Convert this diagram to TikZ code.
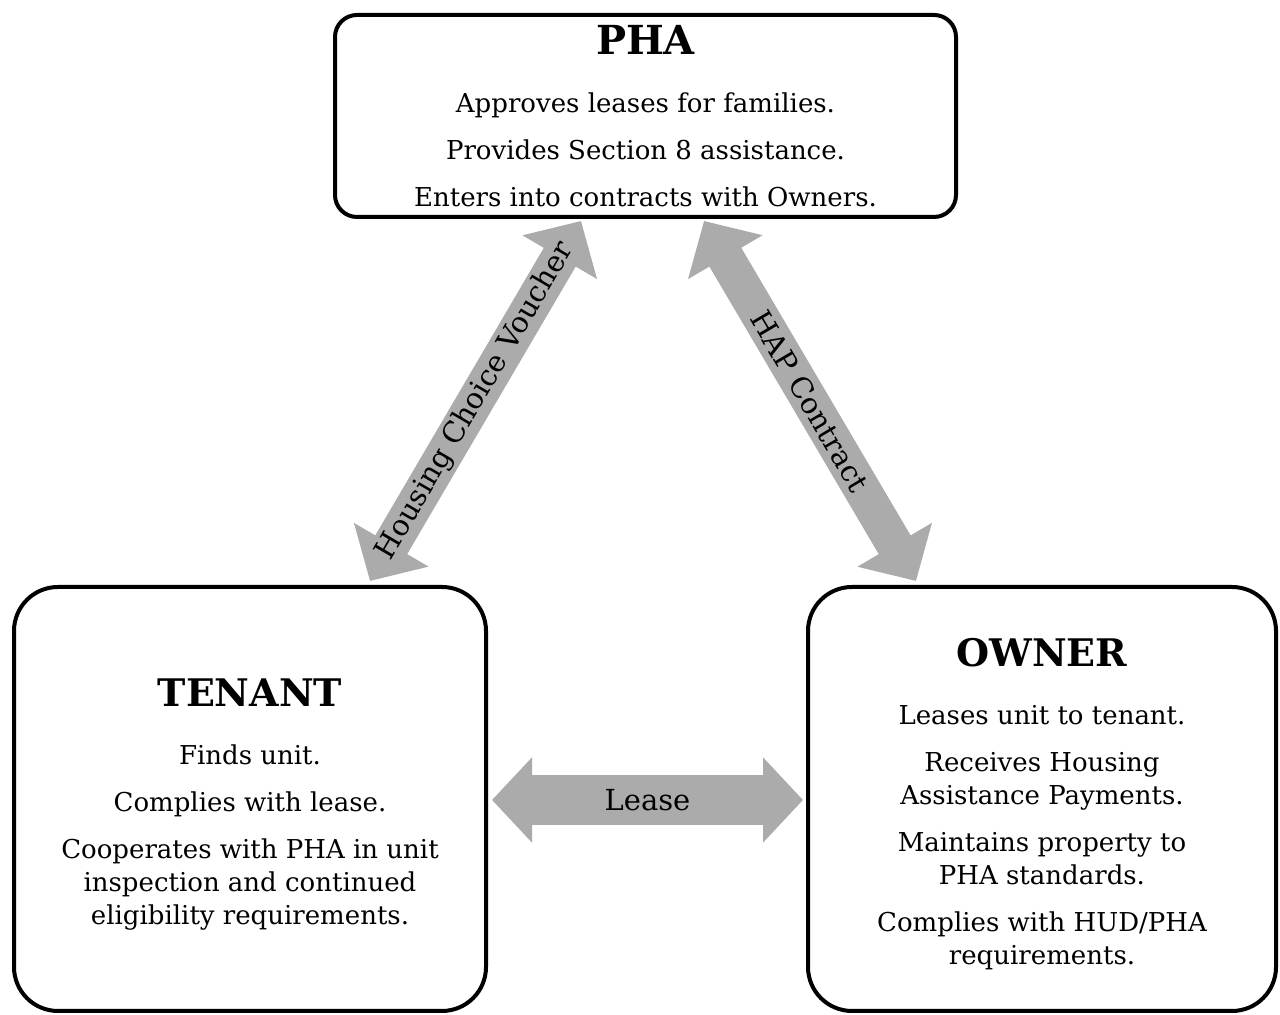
\documentclass[tikz,border=0pt]{standalone}
\usepackage{fontspec}
\setmainfont{DejaVu Serif}
\usetikzlibrary{arrows.meta,calc}
\definecolor{flowgray}{HTML}{ABABAB}
\newcommand\partyhead[2][20]{{\fontsize{#1}{24}\selectfont\bfseries #2}}

\begin{document}
\begin{tikzpicture}[x=0.5pt,y=0.5pt]
  \tikzset{
    party/.style={draw,line width=2pt,align=center,inner sep=0pt,
      font=\fontsize{13}{16.5}\selectfont},
    flow/.style={draw=flowgray,line width=18.5pt,
      {Triangle[width=42pt,length=21pt]}-{Triangle[width=42pt,length=21pt]}},
    leaseflow/.style={draw=flowgray,line width=25pt,
      {Triangle[width=41.5pt,length=20pt]}-{Triangle[width=41.5pt,length=20pt]}},
    flowlabel/.style={font=\fontsize{14.5}{17}\selectfont,inner sep=0pt},
  }
  \useasboundingbox (0,0) rectangle (1280,1015);

  \node[party,rounded corners=11pt,minimum width=310.5pt,minimum height=101pt] (pha) at (645.5,899)
    {\partyhead{PHA}\\[12.5pt]
     Approves leases for families.\\[7pt]
     Provides Section 8 assistance.\\[7pt]
     Enters into contracts with Owners.};
  \node[party,rounded corners=22pt,minimum width=236pt,minimum height=212pt] (tenant) at (250,216)
    {\rule{0pt}{19pt}\partyhead[19]{TENANT}\\[12.5pt]
     Finds unit.\\[7pt]
     Complies with lease.\\[7pt]
     Cooperates with PHA in unit\\
     inspection and continued\\
     eligibility requirements.};
  \node[party,rounded corners=22pt,minimum width=234pt,minimum height=212pt] (owner) at (1042,216)
    {\rule{0pt}{19pt}\partyhead[19]{OWNER}\\[12.5pt]
     Leases unit to tenant.\\[7pt]
     Receives Housing\\
     Assistance Payments.\\[7pt]
     Maintains property to\\
     PHA standards.\\[7pt]
     Complies with HUD/PHA\\
     requirements.};

  \coordinate (hcv-top) at ([shift={(248,-2)}]pha.south west);
  \coordinate (hcv-bot) at ([shift={(358,4)}]tenant.north west);
  \coordinate (hap-top) at ([shift={(371,-2)}]pha.south west);
  \coordinate (hap-bot) at ([shift={(110,4)}]owner.north west);
  \coordinate (lease-l) at ([shift={(4,-1)}]tenant.east);
  \coordinate (lease-r) at ([shift={(-3,-1)}]owner.west);

  \draw[flow] (hcv-bot) -- node[flowlabel,sloped] {Housing Choice Voucher} (hcv-top);
  \draw[flow] (hap-top) -- node[flowlabel,sloped] {HAP Contract} (hap-bot);
  \draw[leaseflow] (lease-l) -- node[flowlabel] {Lease} (lease-r);
\end{tikzpicture}
\end{document}
